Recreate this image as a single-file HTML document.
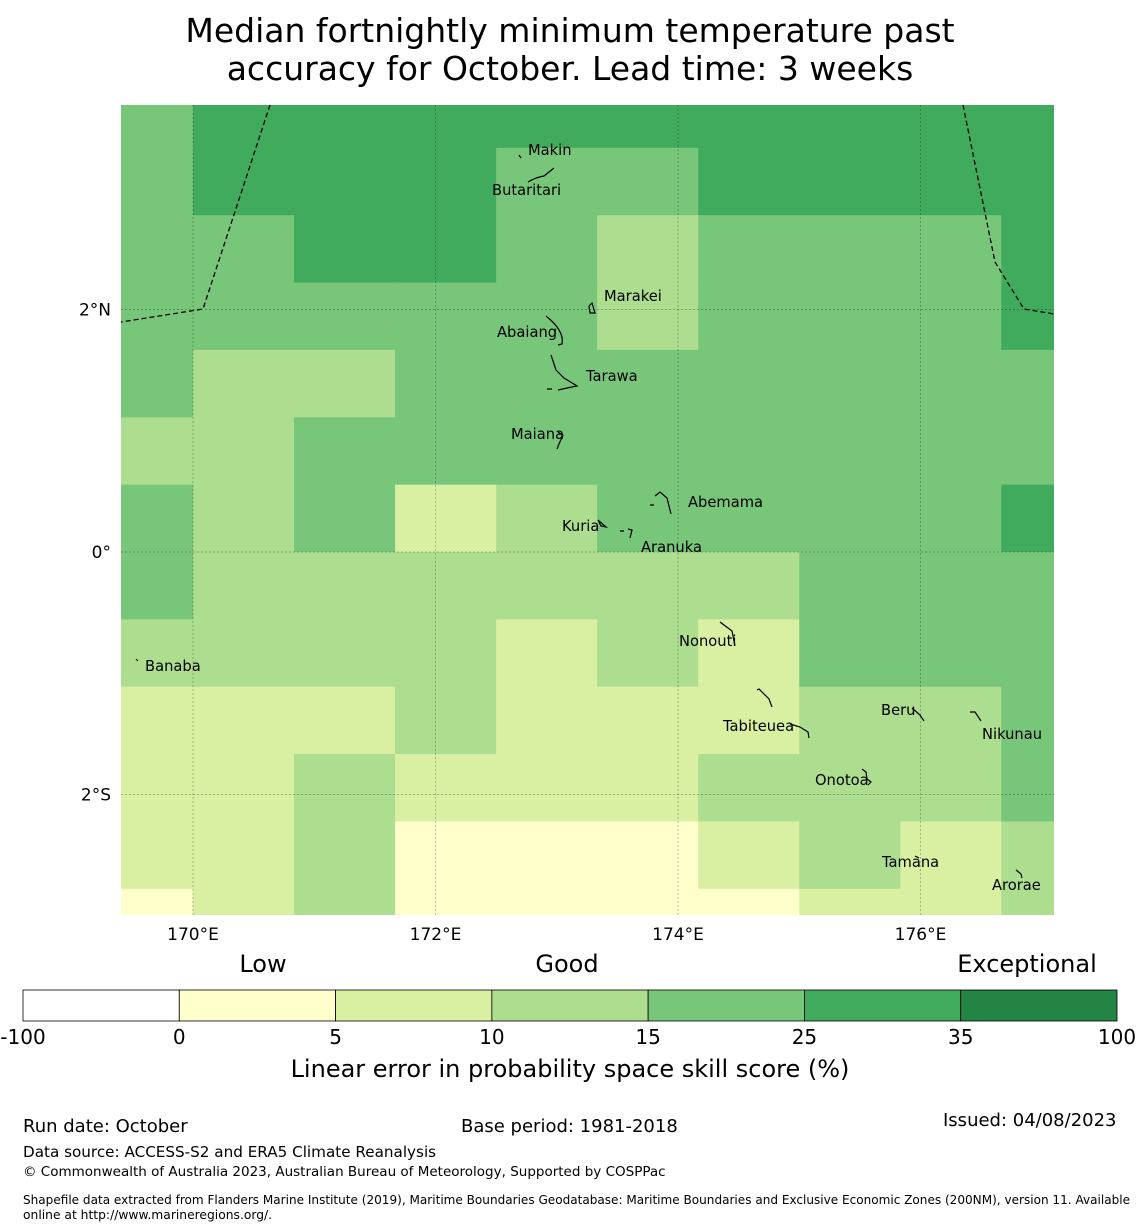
<!DOCTYPE html>
<html><head><meta charset="utf-8"><style>
html,body{margin:0;padding:0;background:#fff;}
svg{display:block;font-family:"DejaVu Sans","Liberation Sans",sans-serif;}
</style></head><body>
<svg id="chart" width="1140" height="1230" viewBox="0 0 1140 1230" xmlns="http://www.w3.org/2000/svg">
<text x="570" y="42" font-size="33" text-anchor="middle">Median fortnightly minimum temperature past</text>
<text x="570" y="80" font-size="33" text-anchor="middle">accuracy for October. Lead time: 3 weeks</text>
<defs><clipPath id="mapclip"><rect x="121" y="105" width="933" height="810"/></clipPath></defs>
<g id="cells" clip-path="url(#mapclip)"></g>
<g id="grid" clip-path="url(#mapclip)"></g>
<g id="islands" fill="none" stroke="#000" stroke-width="1.2">
<path d="M519 155 l2 3 M528 182 c5 -3 10 -5 16 -6 l10 -8" />
<path d="M589 306 l3 -3 l3 10 l-5 0 z"/>
<path d="M546 316 c10 8 18 18 16 28 l-4 1"/>
<path d="M551 355 l5 15 l8 8 l13 8 l-10 2 l-9 2 M547 389 h5"/>
<path d="M558 432 l5 3 l-4 9 l-2 5"/>
<path d="M650 505 h4 M655 496 l5 -4 l7 6 l4 16"/>
<path d="M598 520 l3 6 l5 1 z M620 531 h4 M628 529 l4 1 l-2 8"/>
<path d="M720 622 l12 9 l3 15"/>
<path d="M757 690 l2 -1 l10 10 l3 8 M790 724 l10 3 l8 5 l1 6"/>
<path d="M912 708 l8 7 l4 6"/>
<path d="M970 712 l5 0 l6 9"/>
<path d="M862 769 l4 3 l1 7 l4 3 l-3 3"/>
<path d="M915 856 l4 2"/>
<path d="M1016 870 l5 4 l1 4"/>
<path d="M136 659 l2 2"/>
</g>
<g fill="none" stroke="#000" stroke-width="1.3" stroke-dasharray="5,3">
<path d="M270 105 L203 309 L121 322"/>
<path d="M963 105 L995 262 L1024 309 L1054 314"/>
</g>
<g font-size="14.7" fill="#000">
<text x="528" y="155">Makin</text>
<text x="492" y="195">Butaritari</text>
<text x="604" y="301">Marakei</text>
<text x="497" y="337">Abaiang</text>
<text x="586" y="381">Tarawa</text>
<text x="511" y="439">Maiana</text>
<text x="688" y="507">Abemama</text>
<text x="562" y="531">Kuria</text>
<text x="641" y="552">Aranuka</text>
<text x="679" y="646">Nonouti</text>
<text x="145" y="671">Banaba</text>
<text x="723" y="731">Tabiteuea</text>
<text x="881" y="715">Beru</text>
<text x="982" y="739">Nikunau</text>
<text x="815" y="785">Onotoa</text>
<text x="882" y="867">Tamana</text>
<text x="992" y="890">Arorae</text>
</g>
<g id="axes" font-size="17"></g>
<g id="cbar"></g>
<g font-size="24">
<text x="263" y="972" text-anchor="middle">Low</text>
<text x="567" y="972" text-anchor="middle">Good</text>
<text x="1027" y="972" text-anchor="middle">Exceptional</text>
</g>
<text x="570" y="1077" font-size="24" text-anchor="middle">Linear error in probability space skill score (%)</text>
<g font-size="18">
<text x="23" y="1132">Run date: October</text>
<text x="461" y="1132">Base period: 1981-2018</text>
<text x="943" y="1126">Issued: 04/08/2023</text>
<text x="23" y="1157" font-size="15.2">Data source: ACCESS-S2 and ERA5 Climate Reanalysis</text>
<text x="23" y="1176" font-size="13.5">© Commonwealth of Australia 2023, Australian Bureau of Meteorology, Supported by COSPPac</text>
<text x="23" y="1204" font-size="12.3" textLength="1107" lengthAdjust="spacingAndGlyphs">Shapefile data extracted from Flanders Marine Institute (2019), Maritime Boundaries Geodatabase: Maritime Boundaries and Exclusive Economic Zones (200NM), version 11. Available</text>
<text x="23" y="1219" font-size="12.3">online at http://www.marineregions.org/.</text>
</g>
</svg>
<script>
// data: skill class per grid cell (rows north->south, columns west->east)
const classColors = ["#ffffff","#ffffcc","#d9f0a3","#addd8e","#78c679","#41ab5d","#238443"];
const binEdges = [-100,0,5,10,15,25,35,100];
const lonTicks = [170,172,174,176];
const latTicks = [2,0,-2];
const latTickLabels = ["2°N","0°","2°S"];
const lonTickLabels = ["170°E","172°E","174°E","176°E"];
const gridRows = [
 [4,5,5,5,5,5,5,5,5,5],
 [4,5,5,5,4,4,5,5,5,5],
 [4,4,5,5,4,3,4,4,4,5],
 [4,4,4,4,4,3,4,4,4,5],
 [4,3,3,4,4,4,4,4,4,4],
 [3,3,4,4,4,4,4,4,4,4],
 [4,3,4,2,3,4,4,4,4,5],
 [4,3,3,3,3,3,3,4,4,4],
 [3,3,3,3,2,3,2,4,4,4],
 [2,2,2,3,2,2,2,3,3,4],
 [2,2,3,2,2,2,3,3,3,4],
 [2,2,3,1,1,1,2,3,2,3],
 [1,2,3,1,1,1,1,2,2,3]
];
const lonStart = 170 - 5/6, cellLon = 5/6;
const latStart = 7*5/9, cellLat = 5/9;
const NS = "http://www.w3.org/2000/svg";
function X(lon){return 193 + (lon-170)*121.25;}
function Y(lat){return 552 - lat*121.25;}
function mk(tag, attrs, parent){const e=document.createElementNS(NS,tag);for(const k in attrs)e.setAttribute(k,attrs[k]);parent.appendChild(e);return e;}
const cells=document.getElementById('cells');
gridRows.forEach((row,r)=>row.forEach((v,c)=>{
  const x0=X(lonStart+c*cellLon), x1=X(lonStart+(c+1)*cellLon);
  const y0=Y(latStart-r*cellLat), y1=Y(latStart-(r+1)*cellLat);
  const el=mk('rect',{x:x0,y:y0,width:x1-x0+0.5,height:y1-y0+0.5,fill:classColors[v]},cells);
  
  
}));
const grid=document.getElementById('grid'), axes=document.getElementById('axes');
lonTicks.forEach((lon,i)=>{
  mk('line',{x1:X(lon),x2:X(lon),y1:105,y2:915,stroke:'#000','stroke-opacity':0.35,'stroke-width':0.7,'stroke-dasharray':'2,2'},grid);
  const t=mk('text',{x:X(lon),y:940,'text-anchor':'middle'},axes);t.textContent=lonTickLabels[i];
  
  
});
latTicks.forEach((lat,i)=>{
  mk('line',{x1:121,x2:1054,y1:Y(lat),y2:Y(lat),stroke:'#000','stroke-opacity':0.35,'stroke-width':0.7,'stroke-dasharray':'2,2'},grid);
  const t=mk('text',{x:111,y:Y(lat)+6,'text-anchor':'end'},axes);t.textContent=latTickLabels[i];
  
  
});
const cbar=document.getElementById('cbar');
const cbX0=23, cbX1=1117, n=classColors.length, w=(cbX1-cbX0)/n;
classColors.forEach((col,i)=>{
  const r=mk('rect',{x:cbX0+i*w,y:990,width:w,height:31,fill:col,stroke:'#000','stroke-width':0.8},cbar);
  
  
});
binEdges.forEach((b,i)=>{
  const t=mk('text',{x:cbX0+i*w,y:1044,'text-anchor':'middle','font-size':20},cbar);t.textContent=b;
  
  
});
</script>
</body></html>
